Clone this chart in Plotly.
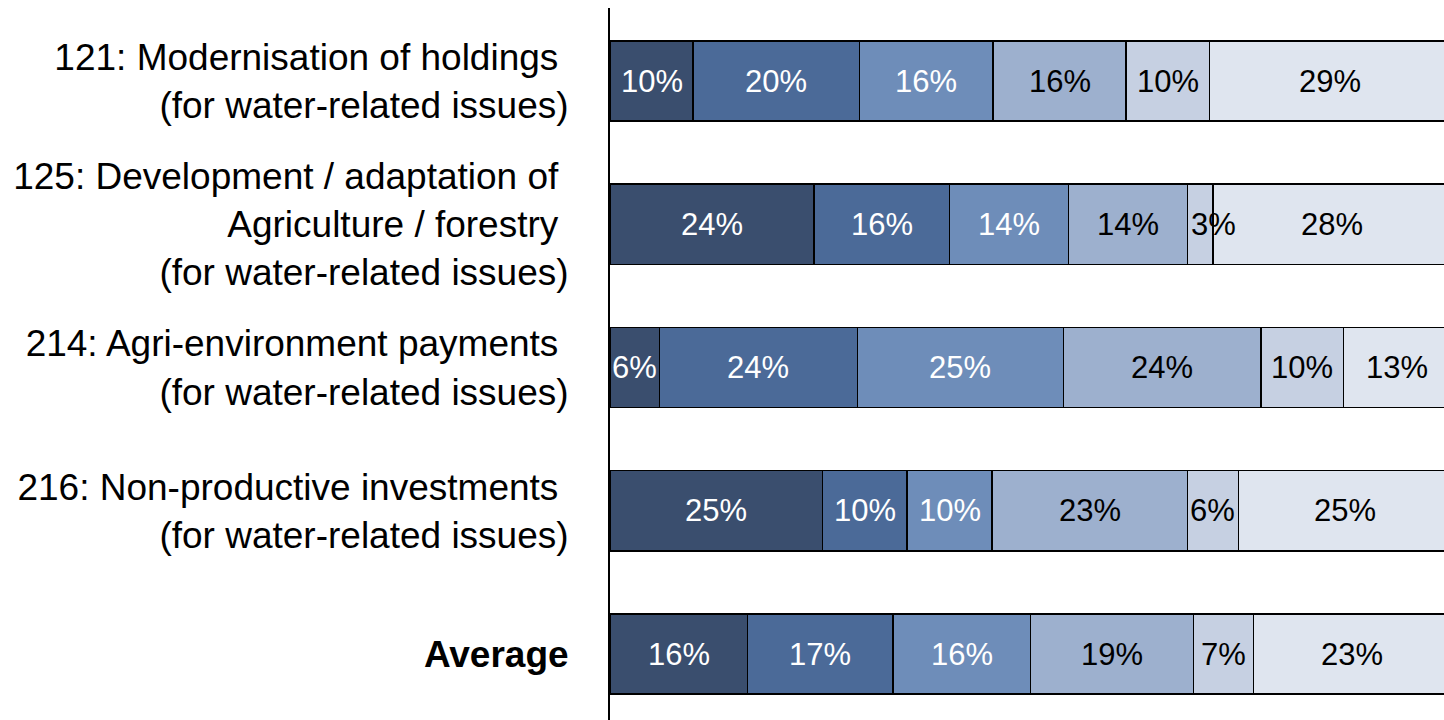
import plotly.graph_objects as go

categories = [
    "121: Modernisation of holdings\u00a0<br>(for water-related issues)",
    "125: Development / adaptation of\u00a0<br>Agriculture / forestry\u00a0<br>(for water-related issues)",
    "214: Agri-environment payments\u00a0<br>(for water-related issues)",
    "216: Non-productive investments\u00a0<br>(for water-related issues)",
    "<b>Average</b>",
]

# share of each segment per category (percent, as labelled)
seg1 = [10, 24, 6, 25, 16]
seg2 = [20, 16, 24, 10, 17]
seg3 = [16, 14, 25, 10, 16]
seg4 = [16, 14, 24, 23, 19]
seg5 = [10, 3, 10, 6, 7]
seg6 = [29, 28, 13, 25, 23]

series = [seg1, seg2, seg3, seg4, seg5, seg6]
colors = ["#3A4E6E", "#4B6A98", "#6E8DB9", "#9DB0CE", "#C6D0E2", "#DFE5EF"]
text_colors = ["white", "white", "white", "black", "black", "black"]

FONT = "Liberation Sans, Arial, Helvetica, sans-serif"

totals = [sum(s[i] for s in series) for i in range(len(categories))]

fig = go.Figure()
for vals, col in zip(series, colors):
    fig.add_trace(go.Bar(
        y=categories,
        x=vals,
        orientation="h",
        width=0.56,
        marker=dict(color=col, line=dict(color="black", width=1.5)),
        hoverinfo="skip",
        showlegend=False,
    ))

# labels drawn on top of all bars (so short segments can overflow)
annotations = []
cum = [0.0] * len(categories)
for vals, tcol in zip(series, text_colors):
    for i, v in enumerate(vals):
        start = cum[i] / totals[i] * 100
        mid = (cum[i] + v / 2) / totals[i] * 100
        cum[i] += v
        narrow = v < 5
        annotations.append(dict(
            x=start if narrow else mid,
            y=categories[i],
            xref="x",
            yref="y",
            text=f"{v}%",
            showarrow=False,
            xanchor="left" if narrow else "center",
            yanchor="middle",
            xshift=2 if narrow else 0,
            font=dict(family=FONT, size=31, color=tcol),
        ))

fig.update_layout(
    width=1444,
    height=720,
    barmode="stack",
    barnorm="percent",
    plot_bgcolor="white",
    paper_bgcolor="white",
    margin=dict(l=610, r=0, t=8, b=0),
    font=dict(family=FONT, color="black"),
    annotations=annotations,
    hovermode=False,
    xaxis=dict(range=[0, 99.2], visible=False, showgrid=False, zeroline=False),
    yaxis=dict(
        type="category",
        categoryorder="array",
        categoryarray=categories,
        range=[4.46, -0.51],
        showline=True,
        linecolor="black",
        linewidth=2,
        ticks="",
        showgrid=False,
        zeroline=False,
        tickfont=dict(family=FONT, size=37, color="black"),
        ticklabelstandoff=32,
    ),
)

fig.write_html(
    "out.html",
    config={"displayModeBar": False, "staticPlot": True},
    post_script="document.body.style.margin='0';",
)
